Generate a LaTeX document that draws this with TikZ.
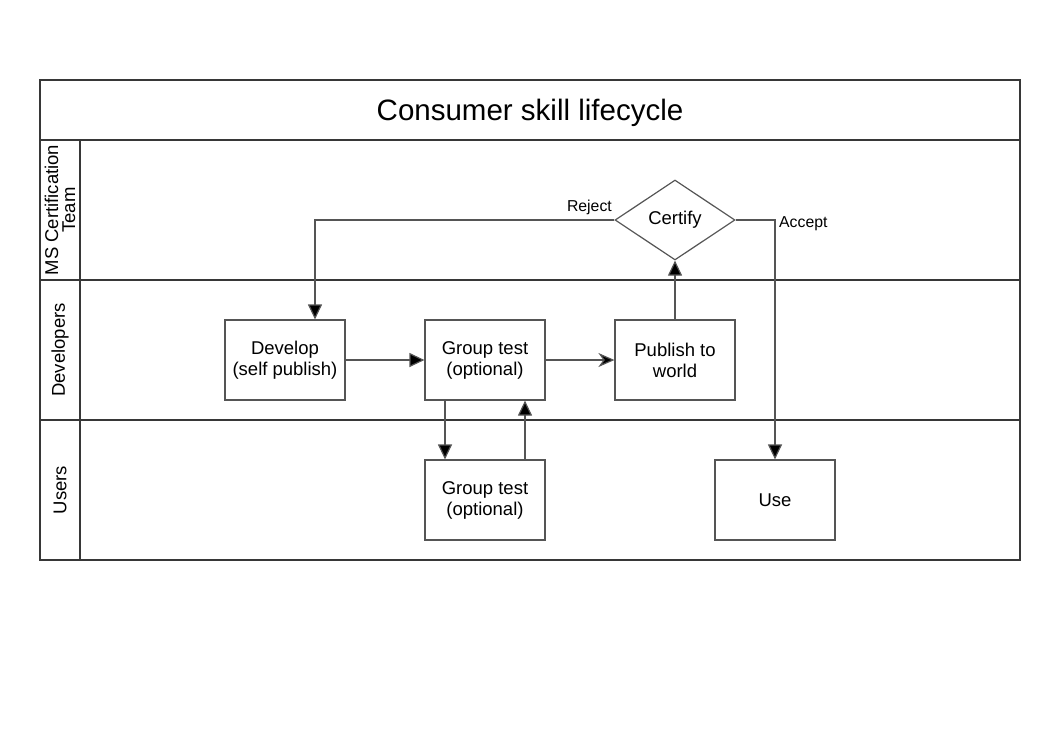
\documentclass[tikz,border=0pt]{standalone}
\usepackage{fontspec}
\setmainfont{Liberation Sans}
\usetikzlibrary{arrows.meta,shapes.geometric}
\definecolor{edgegray}{RGB}{85,85,85}
\definecolor{lanegray}{RGB}{55,55,55}
\tikzstyle{every link} = []
\tikzstyle{link} = [-{Triangle[length=15pt,width=14pt,fill=black]}, draw=edgegray, line width=1.2pt, every link]
\tikzstyle{process} = [draw=edgegray, line width=1.2pt, minimum width=120pt, minimum height=80pt, inner sep=0pt, align=center, font=\fontsize{18.5}{21}\selectfont]
\tikzstyle{decision} = [diamond, draw=edgegray, line width=1.2pt, minimum width=120pt, minimum height=80pt, aspect=1.5, inner sep=0pt, font=\fontsize{18.5}{21}\selectfont]
\tikzstyle{lane} = [draw=lanegray, line width=1.4pt]
\tikzstyle{lanelabel} = [rotate=90, align=center, font=\fontsize{18.5}{17}\selectfont]
\tikzstyle{tag} = [font=\fontsize{15.8}{18}\selectfont, inner sep=1pt]

\begin{document}
\begin{tikzpicture}[x=1pt,y=-1pt]
                    \useasboundingbox (0,0) rectangle (1060,740);
                    % pool and lanes
                    \draw[lane] (40,80) rectangle (1020,560);
                    \draw[lane] (40,140) -- (1020,140);
                    \draw[lane] (40,280) -- (1020,280);
                    \draw[lane] (40,420) -- (1020,420);
                    \draw[lane] (80,140) -- (80,560);
                    \node[font=\fontsize{29.5}{31}\selectfont] (title) at (530,113) {Consumer skill lifecycle};
                    \node[lanelabel] (mslane) at (60,210) {MS Certification\\Team};
                    \node[lanelabel] (devlane) at (60,350) {Developers};
                    \node[lanelabel] (userlane) at (60,490) {Users};

                    % steps
                    \node[process] (develop) at (285,360) {Develop\\(self publish)};
                    \node[process] (grouptest) at (485,360) {Group test\\(optional)};
                    \node[process] (publish) at (675,360) {Publish to\\world};
                    \node[decision] (certify) at (675,220) {Certify};
                    \node[process] (usertest) at (485,500) {Group test\\(optional)};
                    \node[process] (use) at (775,500) {Use};

                    % flow
                    \draw[link] (develop) -- (grouptest);
                    \draw[link, -{Stealth[length=16pt,width=14pt,inset=5pt,fill=black]}] (grouptest) -- (publish);
                    \draw[link] (publish) -- (certify);
                    \draw[link] (certify.west) -| ([xshift=30pt]develop.north);
                    \draw[link] (certify.east) -| (use.north);
                    \draw[link] ([xshift=-40pt]grouptest.south) -- ([xshift=-40pt]usertest.north);
                    \draw[link] ([xshift=40pt]usertest.north) -- ([xshift=40pt]grouptest.south);

                    \node[tag, anchor=south east] (reject) at (613,216) {Reject};
                    \node[tag, anchor=west] (accept) at (778,224) {Accept};
                \end{tikzpicture}
\end{document}
